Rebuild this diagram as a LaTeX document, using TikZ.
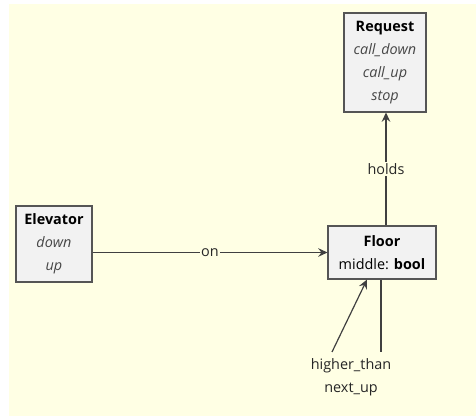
\documentclass[tikz,border=0pt]{standalone}
\usepackage{fontspec}
\setmainfont{Open Sans}
\usetikzlibrary{arrows.meta}
\definecolor{bgyellow}{RGB}{255,255,228}
\definecolor{boxfill}{RGB}{242,242,242}
\definecolor{boxline}{RGB}{85,85,85}
\definecolor{conncol}{RGB}{64,64,64}
\definecolor{enumcol}{RGB}{70,70,70}
\tikzset{
  classbox/.style={draw=boxline, fill=boxfill, line width=0.8pt, inner sep=0pt,
    align=center, font=\fontsize{10.8}{17.2}\selectfont, text=black},
  conn/.style={draw=conncol, line width=0.9pt},
  arr/.style={conn, -{Stealth[length=7pt,width=6.5pt,inset=2.5pt]}},
  lbl/.style={fill=bgyellow, inner sep=1pt, font=\fontsize{10.8}{17.2}\selectfont, text=black!85}
}
\newcommand{\en}[1]{{\color{enumcol}\itshape #1}}
\begin{document}
\begin{tikzpicture}[x=0.75pt,y=-0.75pt]
\useasboundingbox (0,0) rectangle (476,416);
\fill[white] (0,0) rectangle (476,416);
\fill[bgyellow] (9,4) rectangle (476,416);

\node[classbox, minimum width=76*0.75pt, minimum height=76*0.75pt] (elev) at (54,244)
  {\textbf{Elevator}\\\en{down}\\\en{up}};
\node[classbox, minimum width=82*0.75pt, minimum height=99*0.75pt] (req) at (385,62.5)
  {\textbf{Request}\\\en{call\_down}\\\en{call\_up}\\\en{stop}};
\node[classbox, minimum width=108*0.75pt, minimum height=53*0.75pt] (floor) at (382,252.5)
  {\textbf{Floor}\\middle: \textbf{bool}};
\node[lbl, align=center, fill=none] (self) at (351,377) {higher\_than\\next\_up};

\coordinate (lowtop) at (381,352);
\coordinate (arrstart) at (332,352);
\coordinate (arrend) at (367,279);

\draw[arr] (elev.east |- floor.west) -- node[lbl] {on} (floor.west);
\draw[arr] (floor.north -| 386,0) -- node[lbl] {holds} (req.south -| 386,0);
\draw[conn] (floor.south -| lowtop) -- (lowtop);
\draw[arr] (arrstart) -- (floor.south -| arrend);
\end{tikzpicture}
\end{document}
